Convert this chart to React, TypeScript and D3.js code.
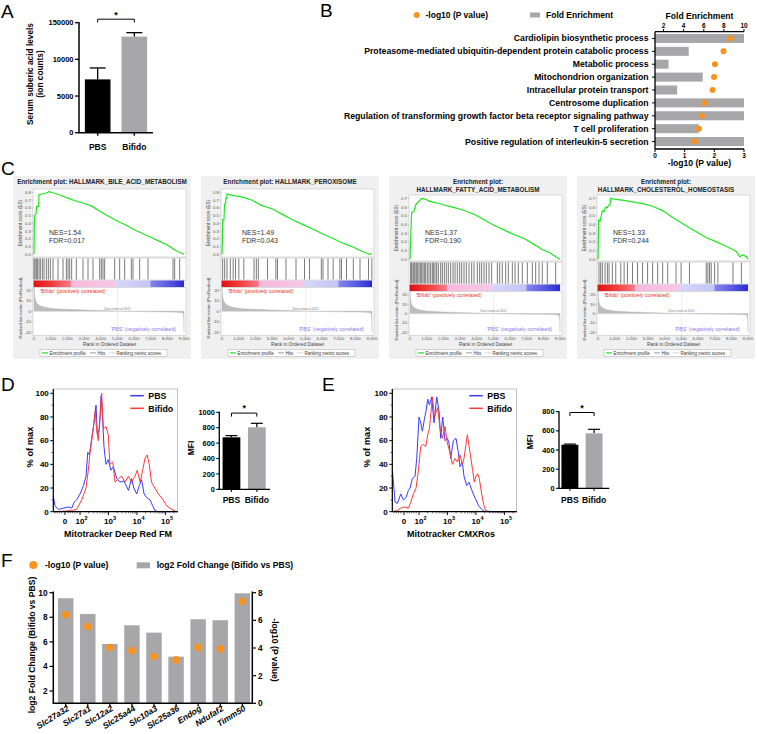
import React from "react";
import * as d3 from "d3";

// ---------------- DATA ----------------
const A_GROUPS = ["PBS", "Bifido"];
const A_MEANS = [72700, 131000];
const A_ERRORS = [15600, 5400];
const A_TICKS = [0, 50000, 100000, 150000];
const A_TICK_LABELS = ["0", "5000", "10000", "150000"];

const B_TERMS = [
  "Cardiolipin biosynthetic process",
  "Proteasome-mediated ubiquitin-dependent protein catabolic process",
  "Metabolic process",
  "Mitochondrion organization",
  "Intracellular protein transport",
  "Centrosome duplication",
  "Regulation of transforming growth factor beta receptor signaling pathway",
  "T cell proliferation",
  "Positive regulation of interleukin-5 secretion",
];
const B_FOLD = [10, 4.5, 2.5, 5.9, 3.35, 10, 10, 5.5, 10];
const B_LOGP = [2.53, 2.31, 2.02, 1.99, 1.94, 1.66, 1.58, 1.48, 1.33];
const B_FOLD_TICKS = [2, 4, 6, 8, 10];
const B_P_TICKS = [0, 1, 2, 3];

const C_TITLES = [
  ["Enrichment plot: HALLMARK_BILE_ACID_METABOLISM"],
  ["Enrichment plot: HALLMARK_PEROXISOME"],
  ["Enrichment plot:", "HALLMARK_FATTY_ACID_METABOLISM"],
  ["Enrichment plot:", "HALLMARK_CHOLESTEROL_HOMEOSTASIS"],
];
const C_NES = ["1.54", "1.49", "1.37", "1.33"];
const C_FDR = ["0.017", "0.043", "0.190", "0.244"];
const C_ES_RANKS = [
  [0, 15, 30, 120, 150, 280, 300, 500, 700, 900, 1100, 1500, 2000, 2500, 3000, 3500, 4000, 4500, 5000, 5500, 6000, 6500, 7000, 7500, 8000, 8500, 8800, 9000],
  [0, 20, 40, 120, 150, 220, 230, 280, 300, 500, 700, 1000, 1400, 1800, 2400, 3000, 3600, 4200, 4800, 5400, 6000, 6600, 7200, 7800, 8300, 8700, 8850, 9000],
  [0, 40, 100, 240, 300, 380, 500, 640, 740, 940, 1140, 1340, 1540, 1740, 1940, 2540, 3140, 3940, 4940, 5940, 6940, 7540, 7940, 8340, 8740, 9000],
  [0, 40, 120, 200, 260, 360, 460, 560, 620, 720, 760, 1065, 1470, 2070, 2670, 3280, 3880, 4480, 5085, 5690, 6490, 7100, 7700, 8300, 8500, 8700, 8900, 9000],
];
const C_ES_VALUES = [
  [0, 0.3, 0.5, 0.52, 0.62, 0.62, 0.77, 0.78, 0.79, 0.81, 0.8, 0.77, 0.73, 0.69, 0.66, 0.62, 0.55, 0.49, 0.43, 0.38, 0.32, 0.27, 0.22, 0.17, 0.12, 0.05, 0.02, 0.0],
  [0, 0.17, 0.45, 0.45, 0.65, 0.66, 0.72, 0.72, 0.78, 0.77, 0.76, 0.75, 0.73, 0.7, 0.63, 0.59, 0.52, 0.45, 0.39, 0.33, 0.27, 0.21, 0.15, 0.1, 0.05, 0.01, 0.0, 0.01],
  [0, 0.25, 0.54, 0.55, 0.6, 0.64, 0.66, 0.69, 0.7, 0.69, 0.67, 0.66, 0.65, 0.645, 0.63, 0.6, 0.57, 0.51, 0.4, 0.31, 0.23, 0.16, 0.11, 0.08, 0.03, 0.0],
  [0, 0.45, 0.44, 0.5, 0.56, 0.55, 0.6, 0.59, 0.62, 0.63, 0.7, 0.69, 0.68, 0.66, 0.64, 0.61, 0.56, 0.48, 0.41, 0.34, 0.25, 0.2, 0.15, 0.09, 0.03, 0.05, 0.03, 0.0],
];
const C_HITS = [
  [0, 60, 140, 200, 300, 380, 500, 600, 740, 860, 980, 1140, 1440, 1740, 1940, 2040, 2140, 2260, 2540, 2940, 3240, 3540, 3940, 4040, 4140, 4240, 4840, 5140, 5440, 5840, 5940, 6340, 6840, 8340, 8440, 8740],
  [40, 160, 300, 500, 670, 810, 1010, 1310, 1920, 2060, 2180, 2730, 3230, 3330, 3840, 4440, 4950, 5250, 5960, 6060, 6360, 6670, 7070, 7170, 7470, 7880, 8280, 8790, 8990],
  [40, 100, 180, 240, 300, 380, 460, 540, 620, 700, 780, 860, 940, 1040, 1140, 1240, 1340, 1420, 1500, 1600, 1700, 1840, 1940, 2060, 2180, 2300, 2440, 2580, 2700, 2840, 2980, 3100, 3240, 3380, 3540, 3700, 3840, 4040, 4180, 4300, 4440, 4580, 4740, 4900, 5240, 5380, 5540, 5740, 5900, 6140, 6300, 6500, 6740, 7040, 7340, 7540, 7740, 7940, 8240, 8740],
  [60, 161, 261, 422, 563, 663, 864, 1065, 1367, 1568, 1769, 2070, 2372, 2673, 2975, 3276, 3578, 3879, 4181, 4683, 4985, 5487, 6492, 6593, 6693, 6794, 6995, 7196, 8100, 8603],
];
const C_METRIC_RANKS = [0, 20, 50, 100, 200, 350, 500, 750, 1000, 1500, 2000, 2500, 3000, 3500, 4000, 4500, 5011, 5500, 6000, 6500, 7000, 7500, 8000, 8500, 8800, 8950, 8990, 9000];
const C_METRIC_VALUES = [24, 18, 13, 10, 7, 5.5, 4.5, 3.5, 2.8, 2.2, 1.8, 1.5, 1.2, 0.9, 0.6, 0.3, 0, -0.2, -0.4, -0.5, -0.6, -0.7, -0.8, -1.0, -1.3, -2, -6, -20];
const C_RANK_TICKS = [0, 1000, 2000, 3000, 4000, 5000, 6000, 7000, 8000, 9000];
const C_METRIC_TICKS = [20, 10, 0, -10, -20];

// flow histograms: x in logicle display decades, y in % of max
const D_PBS_X = [1.06, 1.12, 1.24, 1.42, 1.59, 1.71, 1.79, 1.88, 2.0, 2.12, 2.21, 2.27, 2.33, 2.41, 2.49, 2.56, 2.61, 2.68, 2.74, 2.8, 2.84, 2.91, 2.99, 3.08, 3.17, 3.29, 3.4, 3.54, 3.7, 3.81, 3.89, 3.99, 4.08, 4.16, 4.25, 4.34, 4.46, 4.55, 4.63, 4.75, 5.43];
const D_PBS_Y = [13, 5, 2, 3, 4, 3, 8, 10, 15, 22, 30, 50, 48, 62, 75, 90, 65, 70, 98, 75, 55, 40, 44, 35, 38, 28, 25, 26, 18, 28, 20, 15, 22, 27, 15, 12, 10, 5, 1, 0, 0];
const D_BIF_X = [1.06, 1.5, 1.7, 1.88, 2.06, 2.21, 2.29, 2.35, 2.44, 2.53, 2.58, 2.64, 2.7, 2.76, 2.82, 2.91, 2.99, 3.05, 3.15, 3.23, 3.35, 3.46, 3.58, 3.7, 3.81, 3.93, 4.01, 4.11, 4.2, 4.28, 4.36, 4.43, 4.51, 4.63, 4.75, 4.92, 5.04, 5.22, 5.39, 5.43];
const D_BIF_Y = [0, 0.5, 1, 2, 10, 20, 35, 50, 65, 85, 70, 60, 80, 100, 70, 72, 65, 40, 42, 25, 28, 30, 25, 30, 25, 30, 35, 25, 35, 45, 48, 40, 25, 20, 15, 10, 5, 2, 0, 0];
const E_PBS_X = [1.064, 1.158, 1.24, 1.357, 1.45, 1.544, 1.626, 1.684, 1.766, 1.86, 1.918, 2.0, 2.058, 2.117, 2.187, 2.246, 2.304, 2.363, 2.444, 2.526, 2.62, 2.702, 2.76, 2.83, 2.912, 2.994, 3.053, 3.111, 3.205, 3.298, 3.38, 3.439, 3.52, 3.579, 3.673, 3.754, 3.825, 3.906, 4.0, 4.094, 4.199, 4.316, 5.43];
const E_PBS_Y = [35, 8, 7, 15, 10, 12, 18, 20, 28, 30, 45, 80, 75, 68, 78, 85, 95, 90, 97, 75, 97, 85, 62, 80, 60, 62, 58, 45, 60, 62, 50, 38, 42, 30, 22, 25, 20, 15, 10, 5, 2, 0, 0];
const E_BIF_X = [1.064, 1.24, 1.357, 1.51, 1.626, 1.708, 1.8, 1.895, 1.977, 2.058, 2.152, 2.234, 2.304, 2.363, 2.468, 2.538, 2.655, 2.737, 2.819, 2.912, 2.994, 3.088, 3.17, 3.263, 3.345, 3.439, 3.52, 3.579, 3.696, 3.789, 3.883, 3.94, 4.0, 4.058, 4.117, 4.199, 4.281, 4.351, 4.491, 5.43];
const E_BIF_Y = [0, 1, 3, 4, 3, 8, 15, 20, 35, 55, 57, 55, 65, 70, 97, 80, 88, 70, 62, 72, 58, 50, 40, 45, 42, 48, 40, 45, 65, 50, 35, 25, 30, 32, 28, 15, 5, 1, 0, 0];
const HIST_Y_TICKS = [0, 20, 40, 60, 80, 100];
const HIST_X_TICK_POS = [1.47, 2, 3, 4, 5];
const HIST_X_TICK_BASE = ["0", "10", "10", "10", "10"];
const HIST_X_TICK_EXP = ["", "2", "3", "4", "5"];
const HIST_LIN_MINOR = [1.12, 1.2, 1.28, 1.36, 1.58, 1.66, 1.74, 1.82, 1.9];

const D_MFI_MEANS = [675, 805];
const D_MFI_ERRS = [22, 52];
const D_MFI_TICKS = [0, 200, 400, 600, 800, 1000];
const E_MFI_MEANS = [455, 574];
const E_MFI_ERRS = [7, 42];
const E_MFI_TICKS = [0, 200, 400, 600, 800];
const MFI_GROUPS = ["PBS", "Bifido"];

const F_GENES = ["Slc27a32", "Slc27a1", "Slc12a2", "Slc25a44", "Slc10a3", "Slc25a36", "Endog", "Ndufaf2", "Timm50"];
const F_LOG2FC = [9.55, 8.27, 5.83, 7.35, 6.75, 4.8, 7.84, 7.76, 9.95];
const F_LOGP = [6.4, 5.55, 4.03, 3.81, 3.38, 3.14, 4.03, 3.93, 7.36];
const F_LEFT_TICKS = [2, 4, 6, 8, 10];
const F_RIGHT_TICKS = [0, 2, 4, 6, 8];

// ---------------- STYLE ----------------
const FONT = "'Liberation Sans', Arial, Helvetica, sans-serif";
const ORANGE = "#f7931e";
const BAR_GRAY = "#a7a7aa";

function PanelA() {
  const y = d3.scaleLinear().domain([0, 150000]).range([132.7, 22.7]);
  const x = d3.scaleBand().domain(A_GROUPS).range([79, 153]).paddingInner(0.3).paddingOuter(0.16);
  const fills = ["#000", BAR_GRAY];
  const cxs = A_GROUPS.map((g) => (x(g) as number) + x.bandwidth() / 2);
  return (
    <g fontFamily={FONT}>
      <text x={1} y={18} fontSize={19}>A</text>
      {A_GROUPS.map((g, i) => {
        const x0 = x(g) as number;
        const w = x.bandwidth();
        const cx = cxs[i];
        const top = y(A_MEANS[i]);
        const et = y(A_MEANS[i] + A_ERRORS[i]);
        return (
          <g key={g}>
            <line x1={cx} x2={cx} y1={top} y2={et} stroke="#000" strokeWidth={1.3} />
            <line x1={cx - 8} x2={cx + 8} y1={et} y2={et} stroke="#000" strokeWidth={1.3} />
            <rect x={x0} y={top} width={w} height={y(0) - top} fill={fills[i]} />
            <line x1={cx} x2={cx} y1={y(0)} y2={y(0) + 3} stroke="#000" strokeWidth={1.3} />
            <text x={cx} y={150} textAnchor="middle" fontSize={8.5} fontWeight="bold">{g}</text>
          </g>
        );
      })}
      <line x1={79} x2={79} y1={y(150000) - 0.6} y2={y(0)} stroke="#000" strokeWidth={1.5} />
      <line x1={78.3} x2={153} y1={y(0)} y2={y(0)} stroke="#000" strokeWidth={1.5} />
      {A_TICKS.map((t, i) => (
        <g key={t}>
          <line x1={75} x2={79} y1={y(t)} y2={y(t)} stroke="#000" strokeWidth={1.3} />
          <text x={73.5} y={y(t) + 2.7} textAnchor="end" fontSize={7.5} fontWeight="bold">{A_TICK_LABELS[i]}</text>
        </g>
      ))}
      <path d={`M${cxs[0]},22.5V19.2H${cxs[1]}V22.5`} fill="none" stroke="#000" strokeWidth={1} />
      <text x={(cxs[0] + cxs[1]) / 2} y={18} textAnchor="middle" fontSize={9} fontWeight="bold">*</text>
      <g transform="translate(33,74) rotate(-90)">
        <text textAnchor="middle" fontSize={8.3} fontWeight="bold">Serum suberic acid levels</text>
      </g>
      <g transform="translate(43,74) rotate(-90)">
        <text textAnchor="middle" fontSize={8.3} fontWeight="bold">(ion counts)</text>
      </g>
    </g>
  );
}

function PanelB() {
  const xF = d3.scaleLinear().domain([1.15, 10]).range([655, 744]);
  const xP = d3.scaleLinear().domain([0, 3]).range([655, 744]);
  const y = d3.scaleBand().domain(B_TERMS).range([32, 148]).paddingInner(0.3).paddingOuter(0.15);
  const bw = y.bandwidth();
  return (
    <g fontFamily={FONT} fontWeight="bold">
      <text x={320} y={17} fontSize={19} fontWeight="normal">B</text>
      <circle cx={416.7} cy={15} r={3} fill={ORANGE} />
      <text x={425.5} y={18} fontSize={8.5}>-log10 (P value)</text>
      <rect x={530} y={12.5} width={10} height={5} fill={BAR_GRAY} />
      <text x={546} y={18} fontSize={8.5}>Fold Enrichment</text>
      {B_TERMS.map((t, i) => {
        const yy = y(t) as number;
        const cy = yy + bw / 2;
        return (
          <g key={t}>
            <rect x={655} y={yy} width={xF(Math.min(B_FOLD[i], 10)) - 655} height={bw} fill={BAR_GRAY} />
            <circle cx={xP(B_LOGP[i])} cy={cy} r={3} fill={ORANGE} />
            <line x1={652} x2={655} y1={cy} y2={cy} stroke="#000" strokeWidth={1} />
            <text x={648.5} y={cy + 3} textAnchor="end" fontSize={8.7}>{t}</text>
          </g>
        );
      })}
      <line x1={655} x2={655} y1={31.7} y2={149} stroke="#000" strokeWidth={1.3} />
      <line x1={655} x2={744} y1={31.7} y2={31.7} stroke="#000" strokeWidth={1.3} />
      {B_FOLD_TICKS.map((t) => (
        <g key={t}>
          <line x1={xF(t)} x2={xF(t)} y1={29} y2={31.7} stroke="#000" strokeWidth={1} />
          <text x={xF(t)} y={28} textAnchor="middle" fontSize={6.5}>{t}</text>
        </g>
      ))}
      <text x={699.5} y={19} textAnchor="middle" fontSize={8.6}>Fold Enrichment</text>
      <line x1={655} x2={744} y1={149} y2={149} stroke="#000" strokeWidth={1.3} />
      {B_P_TICKS.map((t) => (
        <g key={t}>
          <line x1={xP(t)} x2={xP(t)} y1={149} y2={152} stroke="#000" strokeWidth={1} />
          <text x={xP(t)} y={157.5} textAnchor="middle" fontSize={6.5}>{t}</text>
        </g>
      ))}
      <text x={699.5} y={165.5} textAnchor="middle" fontSize={8.6}>-log10 (P value)</text>
    </g>
  );
}

function GseaPlot({ i }: { i: number }) {
  const bx = 13 + i * 188;
  const title = C_TITLES[i];
  const two = title.length > 1;
  const esTop = two ? 195 : 189;
  const esBot = two ? 261 : 257;
  const pl = bx + 20;
  const pr = bx + 173;
  const x = d3.scaleLinear().domain([0, 9000]).range([bx + 21, bx + 171]);
  const yEs = d3.scaleLinear().domain(two ? [-0.02, 0.74] : [-0.035, 0.845]).range([esBot, esTop]);
  const bcTop = esBot + 1;
  const bcBot = bcTop + 22;
  const grTop = bcBot + 0.5;
  const grBot = grTop + 6.5;
  const rkTop = grBot + 0.5;
  const rkBot = 335.5;
  const yRk = d3.scaleLinear().domain(two ? [-23.5, 23.7] : [-23.2, 22.6]).range([rkBot, rkTop]);
  const esTicks = d3.range(0, (two ? 0.7 : 0.8) + 1e-6, 0.1);
  const ranks = C_ES_RANKS[i];
  const esLine = d3.line<number>().x((_, k) => x(ranks[k])).y((v) => yEs(v));
  const area = d3.area<number>().x((_, k) => x(C_METRIC_RANKS[k])).y0(yRk(0)).y1((v) => yRk(v));
  const fs = 4.3;
  return (
    <g fontFamily={FONT}>
      <rect x={bx} y={176} width={178} height={183} fill="#f0f0f0" />
      {title.map((t, k) => (
        <text key={k} x={bx + 89} y={184 + k * 7.6} textAnchor="middle" fontSize={6.3} fontWeight="bold" fill="#222">{t}</text>
      ))}
      <rect x={pl} y={esTop} width={pr - pl} height={esBot - esTop} fill="#fff" stroke="#bbb" strokeWidth={0.5} />
      {esTicks.map((t) => (
        <g key={t}>
          <line x1={pl - 1.5} x2={pl} y1={yEs(t)} y2={yEs(t)} stroke="#888" strokeWidth={0.4} />
          <text x={pl - 2} y={yEs(t) + 1.4} textAnchor="end" fontSize={fs} fill="#555">{t.toFixed(1)}</text>
        </g>
      ))}
      <path d={esLine(C_ES_VALUES[i]) || ""} fill="none" stroke="#1ee61e" strokeWidth={1.2} />
      <text x={x(900) + (i === 1 ? 5 : 0)} y={esTop + (two ? 40 : 46)} fontSize={7} fill="#333">{`NES=${C_NES[i]}`}</text>
      <text x={x(900) + (i === 1 ? 5 : 0)} y={esTop + (two ? 48 : 54)} fontSize={7} fill="#333">{`FDR=${C_FDR[i]}`}</text>
      <g transform={`translate(${bx + 9},${(esTop + esBot) / 2}) rotate(-90)`}>
        <text textAnchor="middle" fontSize={4.6} fill="#444">Enrichment score (ES)</text>
      </g>
      <rect x={pl} y={bcTop} width={pr - pl} height={bcBot - bcTop} fill="#fff" stroke="#bbb" strokeWidth={0.5} />
      {C_HITS[i].map((h, k) => (
        <line key={k} x1={x(h)} x2={x(h)} y1={bcTop + 0.5} y2={bcBot - 0.5} stroke="#333" strokeWidth={0.65} />
      ))}
      <rect x={pl + 0.5} y={grTop} width={pr - pl - 2.5} height={grBot - grTop} fill="url(#gseaGrad)" />
      <rect x={pl} y={rkTop} width={pr - pl} height={rkBot - rkTop} fill="#fff" stroke="#bbb" strokeWidth={0.5} />
      <path d={area(C_METRIC_VALUES) || ""} fill="#bdbdbd" stroke="#aaa" strokeWidth={0.3} />
      <line x1={x(5011)} x2={x(5011)} y1={rkTop} y2={rkBot} stroke="#f0a0a0" strokeWidth={0.4} strokeDasharray="1,1" />
      <text x={x(5011)} y={yRk(0) - 1.2} textAnchor="middle" fontSize={3.2} fill="#777">Zero cross at 5011</text>
      <text x={pl + 7} y={rkTop + 5.5} fontSize={5.2} fill="#ee3030">'Bifido' (positively correlated)</text>
      <text x={pr - 10} y={rkBot - 4.5} textAnchor="end" fontSize={5.2} fill="#8878ee">'PBS' (negatively correlated)</text>
      {C_METRIC_TICKS.map((t) => (
        <g key={t}>
          <line x1={pl - 1.5} x2={pl} y1={yRk(t)} y2={yRk(t)} stroke="#888" strokeWidth={0.4} />
          <text x={pl - 2} y={yRk(t) + 1.4} textAnchor="end" fontSize={fs} fill="#555">{t}</text>
        </g>
      ))}
      <g transform={`translate(${bx + 9},${(grTop + rkBot) / 2}) rotate(-90)`}>
        <text textAnchor="middle" fontSize={4.4} fill="#444">Ranked list metric (PreRanked)</text>
      </g>
      {C_RANK_TICKS.map((t) => (
        <g key={t}>
          <line x1={x(t)} x2={x(t)} y1={rkBot} y2={rkBot + 1.5} stroke="#888" strokeWidth={0.4} />
          <text x={x(t)} y={340.2} textAnchor="middle" fontSize={fs} fill="#555">{d3.format(",")(t)}</text>
        </g>
      ))}
      <text x={(pl + pr) / 2} y={345.6} textAnchor="middle" fontSize={4.8} fill="#444">Rank in Ordered Dataset</text>
      <rect x={bx + 27} y={349.5} width={127} height={6.8} fill="#fff" stroke="#999" strokeWidth={0.4} />
      <line x1={bx + 29} x2={bx + 35} y1={352.9} y2={352.9} stroke="#22e022" strokeWidth={1.2} />
      <text x={bx + 36.5} y={354.5} fontSize={4.5} fill="#333">Enrichment profile</text>
      <line x1={bx + 77} x2={bx + 83} y1={352.9} y2={352.9} stroke="#555" strokeWidth={0.6} />
      <text x={bx + 84.5} y={354.5} fontSize={4.5} fill="#333">Hits</text>
      <line x1={bx + 96} x2={bx + 102} y1={352.9} y2={352.9} stroke="#bbb" strokeWidth={0.6} />
      <text x={bx + 103.5} y={354.5} fontSize={4.5} fill="#333">Ranking metric scores</text>
    </g>
  );
}

function FlowHist(props: {
  left: number; pbsX: number[]; pbsY: number[]; bifX: number[]; bifY: number[];
  title: string; titleX: number; ylabX: number;
}) {
  const { left, pbsX, pbsY, bifX, bifY, title, titleX, ylabX } = props;
  const x = d3.scaleLinear().domain([1.06, 5.43]).range([left, left + 124.4]);
  const y = d3.scaleLinear().domain([0, 100]).range([511.7, 393.3]);
  const mk = (xs: number[]) => d3.line<number>().x((_, k) => x(xs[k])).y((v) => y(v));
  const logMinor: number[] = [];
  for (let n = 2; n <= 5; n++) for (let m = 2; m <= 9; m++) {
    const p = n + Math.log10(m);
    if (p < 5.43) logMinor.push(p);
  }
  const right = left + 124.4;
  return (
    <g fontFamily={FONT} fontWeight="bold">
      <rect x={left} y={389} width={right - left} height={122.7} fill="none" stroke="#999" strokeWidth={0.6} />
      <path d={mk(pbsX)(pbsY) || ""} fill="none" stroke="#3a3aff" strokeWidth={1} />
      <path d={mk(bifX)(bifY) || ""} fill="none" stroke="#ff3a3a" strokeWidth={1} />
      <line x1={left} x2={left} y1={389} y2={511.7} stroke="#000" strokeWidth={1.2} />
      <line x1={left} x2={right} y1={511.7} y2={511.7} stroke="#000" strokeWidth={1.2} />
      {HIST_Y_TICKS.map((t) => (
        <g key={t}>
          <line x1={left - 3} x2={left} y1={y(t)} y2={y(t)} stroke="#000" strokeWidth={1} />
          <text x={left - 4.5} y={y(t) + 2.8} textAnchor="end" fontSize={8}>{t}</text>
        </g>
      ))}
      {[10, 30, 50, 70, 90].map((t) => (
        <line key={t} x1={left - 1.8} x2={left} y1={y(t)} y2={y(t)} stroke="#000" strokeWidth={0.6} />
      ))}
      {[...logMinor, ...HIST_LIN_MINOR].map((p, k) => (
        <line key={k} x1={x(p)} x2={x(p)} y1={511.7} y2={513.5} stroke="#000" strokeWidth={0.5} />
      ))}
      {HIST_X_TICK_POS.map((p, k) => (
        <g key={k}>
          <line x1={x(p)} x2={x(p)} y1={511.7} y2={515} stroke="#000" strokeWidth={0.9} />
          <text x={x(p) + (HIST_X_TICK_EXP[k] ? 1.5 : 0)} y={523.5} textAnchor="middle" fontSize={8}>
            {HIST_X_TICK_BASE[k]}
            {HIST_X_TICK_EXP[k] ? <tspan dy={-3.2} fontSize={5.5}>{HIST_X_TICK_EXP[k]}</tspan> : null}
          </text>
        </g>
      ))}
      <text x={titleX} y={536.5} textAnchor="middle" fontSize={9}>{title}</text>
      <g transform={`translate(${ylabX},447) rotate(-90)`}>
        <text textAnchor="middle" fontSize={9.3}>% of max</text>
      </g>
      <line x1={left + 77} x2={left + 90.5} y1={395.7} y2={395.7} stroke="#3a3aff" strokeWidth={1.5} />
      <text x={left + 95} y={399} fontSize={8.8}>PBS</text>
      <line x1={left + 77} x2={left + 90.5} y1={408.3} y2={408.3} stroke="#ff3a3a" strokeWidth={1.5} />
      <text x={left + 95} y={411.6} fontSize={8.8}>Bifido</text>
    </g>
  );
}

function MfiBars(props: {
  axisX: number; bandEnd: number; axisEnd: number; yBot: number; yTop: number; max: number;
  ticks: number[]; means: number[]; errs: number[]; mfiX: number; mfiY: number; outer: number;
}) {
  const { axisX, bandEnd, axisEnd, yBot, yTop, max, ticks, means, errs, mfiX, mfiY, outer } = props;
  const y = d3.scaleLinear().domain([0, max]).range([yBot, yTop]);
  const x = d3.scaleBand().domain(MFI_GROUPS).range([axisX, bandEnd]).paddingInner(0.3).paddingOuter(outer);
  const fills = ["#000", BAR_GRAY];
  const cxs = MFI_GROUPS.map((g) => (x(g) as number) + x.bandwidth() / 2);
  return (
    <g fontFamily={FONT} fontWeight="bold">
      {MFI_GROUPS.map((g, i) => {
        const top = y(means[i]);
        const et = y(means[i] + errs[i]);
        const cx = cxs[i];
        return (
          <g key={g}>
            <line x1={cx} x2={cx} y1={top} y2={et} stroke="#000" strokeWidth={1.2} />
            <line x1={cx - 6} x2={cx + 6} y1={et} y2={et} stroke="#000" strokeWidth={1.2} />
            <rect x={x(g) as number} y={top} width={x.bandwidth()} height={yBot - top} fill={fills[i]} />
            <line x1={cx} x2={cx} y1={yBot} y2={yBot + 2.5} stroke="#000" strokeWidth={1.1} />
            <text x={cx} y={503} textAnchor="middle" fontSize={8.6}>{g}</text>
          </g>
        );
      })}
      <line x1={axisX} x2={axisX} y1={yTop - 0.5} y2={yBot} stroke="#000" strokeWidth={1.3} />
      <line x1={axisX - 0.6} x2={axisEnd} y1={yBot} y2={yBot} stroke="#000" strokeWidth={1.3} />
      {ticks.map((t) => (
        <g key={t}>
          <line x1={axisX - 3} x2={axisX} y1={y(t)} y2={y(t)} stroke="#000" strokeWidth={1.1} />
          <text x={axisX - 4.5} y={y(t) + 2.6} textAnchor="end" fontSize={7.3}>{t}</text>
        </g>
      ))}
      <path d={`M${cxs[0]},${yTop + 4.3}V${yTop + 0.8}H${cxs[1]}V${yTop + 4.3}`} fill="none" stroke="#000" strokeWidth={1} />
      <text x={(cxs[0] + cxs[1]) / 2} y={yTop - 1} textAnchor="middle" fontSize={9}>*</text>
      <g transform={`translate(${mfiX},${mfiY}) rotate(-90)`}>
        <text textAnchor="middle" fontSize={8.5}>MFI</text>
      </g>
    </g>
  );
}

function PanelF() {
  const x = d3.scaleBand().domain(F_GENES).range([54, 254]).paddingInner(0.3).paddingOuter(0.18);
  const yL = d3.scaleLinear().domain([1, 10]).range([703.3, 592.7]);
  const yR = d3.scaleLinear().domain([0, 8]).range([703.3, 592.7]);
  return (
    <g fontFamily={FONT} fontWeight="bold">
      <text x={1} y={567} fontSize={19} fontWeight="normal">F</text>
      <circle cx={33.3} cy={565} r={4} fill={ORANGE} />
      <text x={45} y={568} fontSize={8.6}>-log10 (P value)</text>
      <rect x={136.7} y={562.3} width={13.3} height={6} fill={BAR_GRAY} />
      <text x={156.7} y={568} fontSize={8.6}>log2 Fold Change (Bifido vs PBS)</text>
      {F_GENES.map((g, i) => {
        const x0 = x(g) as number;
        const cx = x0 + x.bandwidth() / 2;
        return (
          <g key={g}>
            <rect x={x0} y={yL(F_LOG2FC[i])} width={x.bandwidth()} height={703.3 - yL(F_LOG2FC[i])} fill={BAR_GRAY} />
            <circle cx={cx} cy={yR(F_LOGP[i])} r={3.8} fill={ORANGE} />
            <line x1={cx} x2={cx} y1={703.3} y2={706.5} stroke="#000" strokeWidth={1.2} />
            <g transform={`translate(${cx + 4},${710}) rotate(-32)`}>
              <text textAnchor="end" fontSize={8.5} fontStyle="italic">{g}</text>
            </g>
          </g>
        );
      })}
      <line x1={53.3} x2={53.3} y1={591.5} y2={703.3} stroke="#000" strokeWidth={1.5} />
      <line x1={52.6} x2={253} y1={703.3} y2={703.3} stroke="#000" strokeWidth={1.5} />
      <line x1={252.3} x2={252.3} y1={591.5} y2={703.3} stroke="#000" strokeWidth={1.5} />
      {F_LEFT_TICKS.map((t) => (
        <g key={t}>
          <line x1={49.5} x2={53.3} y1={yL(t)} y2={yL(t)} stroke="#000" strokeWidth={1.2} />
          <text x={47.5} y={yL(t) + 3} textAnchor="end" fontSize={8.3}>{t}</text>
        </g>
      ))}
      {F_RIGHT_TICKS.map((t) => (
        <g key={t}>
          <line x1={252.3} x2={256} y1={yR(t)} y2={yR(t)} stroke="#000" strokeWidth={1.2} />
          <text x={258} y={yR(t) + 3} fontSize={8.3}>{t}</text>
        </g>
      ))}
      <g transform="translate(35,645) rotate(-90)">
        <text textAnchor="middle" fontSize={8.6}>log2 Fold Change (Bifido vs PBS)</text>
      </g>
      <g transform="translate(271.5,650) rotate(90)">
        <text textAnchor="middle" fontSize={8.6}>-log10 (P value)</text>
      </g>
    </g>
  );
}

export default function App() {
  return (
    <div style={{ position: "absolute", left: 0, top: 0 }}>
      <svg width={757} height={734} viewBox="0 0 757 734" style={{ display: "block", background: "#fff" }}>
        <defs>
          <linearGradient id="gseaGrad" x1="0" x2="1" y1="0" y2="0">
            <stop offset="0" stopColor="#e01010" />
            <stop offset="0.12" stopColor="#f03c3c" />
            <stop offset="0.245" stopColor="#f57a88" />
            <stop offset="0.25" stopColor="#f7b8dc" />
            <stop offset="0.545" stopColor="#f6c8e6" />
            <stop offset="0.55" stopColor="#d6d6fb" />
            <stop offset="0.775" stopColor="#c4c4f6" />
            <stop offset="0.78" stopColor="#8484ee" />
            <stop offset="0.88" stopColor="#6060e4" />
            <stop offset="1" stopColor="#2a2ad0" />
          </linearGradient>
        </defs>
        <PanelA />
        <PanelB />
        <text x={1} y={175} fontSize={19} fontFamily={FONT}>C</text>
        {[0, 1, 2, 3].map((i) => <GseaPlot key={i} i={i} />)}
        <text x={1} y={391} fontSize={19} fontFamily={FONT}>D</text>
        <FlowHist left={53.3} pbsX={D_PBS_X} pbsY={D_PBS_Y} bifX={D_BIF_X} bifY={D_BIF_Y}
          title="Mitotracker Deep Red FM" titleX={118} ylabX={32.5} />
        <MfiBars axisX={219.3} bandEnd={269} axisEnd={270} yBot={489.3} yTop={412.3} max={1000}
          ticks={D_MFI_TICKS} means={D_MFI_MEANS} errs={D_MFI_ERRS} mfiX={194} mfiY={448} outer={0.13} />
        <text x={322} y={391} fontSize={19} fontFamily={FONT}>E</text>
        <FlowHist left={392.3} pbsX={E_PBS_X} pbsY={E_PBS_Y} bifX={E_BIF_X} bifY={E_BIF_Y}
          title="Mitotracker CMXRos" titleX={451} ylabX={369.5} />
        <MfiBars axisX={559} bandEnd={605} axisEnd={609.3} yBot={488.3} yTop={411.7} max={800}
          ticks={E_MFI_TICKS} means={E_MFI_MEANS} errs={E_MFI_ERRS} mfiX={533} mfiY={442} outer={0.1} />
        <PanelF />
      </svg>
    </div>
  );
}
